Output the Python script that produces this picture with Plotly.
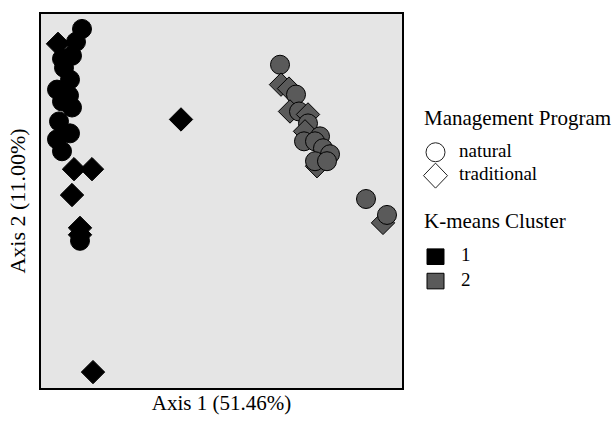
import plotly.graph_objects as go

# Ordination scores (arbitrary axis units; x: Axis 1, y: Axis 2)
c1_x = [41, 17, 35, 31, 21, 23, 29, 16, 28, 21, 31, 18, 29, 16, 21, 33, 51, 31, 39, 39, 39, 140, 52]
c1_y = [361, 346, 348, 334, 331, 322, 310, 300, 294, 288, 282, 268, 256, 250, 238, 220, 220, 194, 161, 154, 148, 270, 16]
c1_prog = ["natural", "traditional", "natural", "natural", "natural", "natural", "natural", "natural",
           "natural", "natural", "natural", "natural", "natural", "natural", "natural", "traditional",
           "traditional", "traditional", "traditional", "traditional", "natural", "traditional", "traditional"]

c2_x = [239, 240, 248, 255, 249, 258, 267, 267, 264, 279, 263, 274, 282, 276, 289, 274, 286, 325, 342, 346]
c2_y = [325, 305, 301, 295, 278, 278, 275, 266, 258, 253, 248, 248, 241, 223, 235, 228, 228, 190, 166, 174]
c2_prog = ["natural", "traditional", "traditional", "natural", "traditional", "natural", "traditional",
           "natural", "traditional", "natural", "natural", "natural", "natural", "traditional", "natural",
           "natural", "natural", "natural", "traditional", "natural"]

programs = ["natural", "traditional"]
clusters = ["1", "2"]
legend_titles = ["Management Program", "K-means Cluster"]
cluster_colors = {"1": "#000000", "2": "#5a5a5a"}
symbol_map = {"natural": "circle", "traditional": "diamond"}
size_map = {"natural": 19, "traditional": 18}

FONT = "Liberation Serif"
W, H = 614, 422
ML, MR, MT, MB = 41, 212, 12, 34
PW, PH = W - ML - MR, H - MT - MB


def px2paper(px, py):
    return (px - ML) / PW, (H - MB - py) / PH


fig = go.Figure()

for cl, xs, ys, progs in [("1", c1_x, c1_y, c1_prog), ("2", c2_x, c2_y, c2_prog)]:
    fig.add_trace(go.Scatter(
        x=xs, y=ys, mode="markers", showlegend=False, name="Cluster " + cl,
        marker=dict(symbol=[symbol_map[p] for p in progs],
                    size=[size_map[p] for p in progs],
                    color=cluster_colors[cl], opacity=1,
                    line=dict(color="#000000", width=1)),
        hoverinfo="skip"))

# ---- manual legend (titles, labels and key symbols) ----
annotations = []
shapes = []

LX_TITLE = 422
LX_SYM = 435.5
LX_TEXT = 457
TEXT_SHIFT = -2
title_y = [118.5, 222.5]
for t, ty in zip(legend_titles, title_y):
    ax, ay = px2paper(LX_TITLE, ty + TEXT_SHIFT)
    annotations.append(dict(text=t, x=ax, y=ay, xref="paper", yref="paper",
                            xanchor="left", yanchor="middle", showarrow=False,
                            font=dict(size=21)))

prog_y = [151, 174.5]
for p, py in zip(programs, prog_y):
    ax, ay = px2paper(LX_TEXT, py + TEXT_SHIFT)
    annotations.append(dict(text=p, x=ax, y=ay, xref="paper", yref="paper",
                            xanchor="left", yanchor="middle", showarrow=False,
                            font=dict(size=19)))
    sx, sy = px2paper(LX_SYM, py)
    if symbol_map[p] == "circle":
        shapes.append(dict(type="circle", xref="paper", yref="paper",
                           xsizemode="pixel", ysizemode="pixel", xanchor=sx, yanchor=sy,
                           x0=-9.5, x1=9.5, y0=-9.5, y1=9.5,
                           line=dict(color="#222222", width=1), fillcolor="#ffffff"))
    else:
        shapes.append(dict(type="path", xref="paper", yref="paper",
                           xsizemode="pixel", ysizemode="pixel", xanchor=sx, yanchor=sy,
                           path="M -12 0 L 0 12.5 L 12 0 L 0 -12.5 Z",
                           line=dict(color="#222222", width=1), fillcolor="#ffffff"))

clus_y = [256, 280.5]
for cl, py in zip(clusters, clus_y):
    ax, ay = px2paper(LX_TEXT + 2, py + TEXT_SHIFT)
    annotations.append(dict(text=cl, x=ax, y=ay, xref="paper", yref="paper",
                            xanchor="left", yanchor="middle", showarrow=False,
                            font=dict(size=19)))
    sx, sy = px2paper(LX_SYM, py)
    shapes.append(dict(type="rect", xref="paper", yref="paper",
                       xsizemode="pixel", ysizemode="pixel", xanchor=sx, yanchor=sy,
                       x0=-8.5, x1=8.5, y0=-7.8, y1=7.8,
                       line=dict(color="#000000", width=1), fillcolor=cluster_colors[cl]))

axis_common = dict(showline=True, mirror=True, linewidth=2, linecolor="#000000",
                   showgrid=False, zeroline=False, showticklabels=False, ticks="")

fig.update_layout(
    width=W, height=H,
    margin=dict(l=ML, r=MR, t=MT, b=MB),
    paper_bgcolor="#ffffff", plot_bgcolor="#e5e5e5",
    font=dict(family=FONT, size=19, color="#000000"),
    showlegend=False,
    xaxis=dict(range=[0, 361], title=dict(text="Axis 1 (51.46%)", font=dict(size=21), standoff=6),
               **axis_common),
    yaxis=dict(range=[0, 376], title=dict(text="Axis 2 (11.00%)", font=dict(size=22), standoff=7),
               **axis_common),
    annotations=annotations,
    shapes=shapes,
)

fig.write_html("out.html")
